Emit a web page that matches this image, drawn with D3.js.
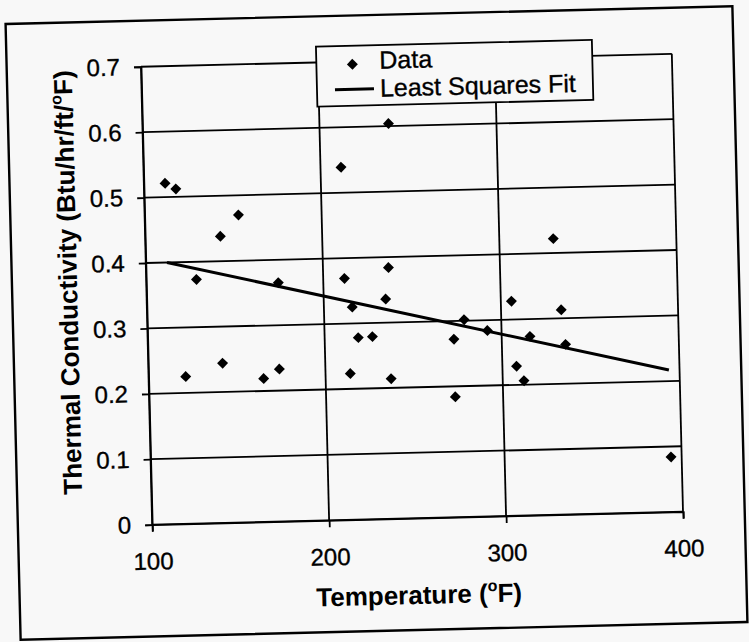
<!DOCTYPE html>
<html>
<head>
<meta charset="utf-8">
<script src="https://cdn.jsdelivr.net/npm/d3@7"></script>
<style>
  html, body { margin: 0; padding: 0; background: #f8f8f8; }
  svg { display: block; }
  text { font-family: "Liberation Sans", Arial, sans-serif; fill: #000; }
</style>
</head>
<body>
<svg id="chart" width="749" height="642"></svg>
<script>
// Measured thermal conductivity against temperature
const temperatures = [112, 118, 153, 142.5, 128.4, 174.6, 211.6, 239, 212, 237, 235,
  121, 142, 165, 174, 216, 219, 227, 214, 237, 279, 273, 292, 273, 306, 334, 316, 336,
  308, 312, 394, 330.5];
const conductivities = [0.521, 0.512, 0.470, 0.438, 0.373, 0.365, 0.539, 0.604, 0.369, 0.384, 0.336,
  0.225, 0.244, 0.219, 0.233, 0.325, 0.278, 0.279, 0.2235, 0.214, 0.3015, 0.272, 0.284, 0.184,
  0.328, 0.313, 0.2735, 0.260, 0.2285, 0.206, 0.084, 0.422];

// Least squares fit line, end points
const fitTemperatures = [112, 394];
const fitConductivities = [0.400, 0.217];

// Axis ticks
const xTicks = [100, 200, 300, 400];
const xTickLabels = ["100", "200", "300", "400"];
const yTicks = [0, 0.1, 0.2, 0.3, 0.4, 0.5, 0.6, 0.7];
const yTickLabels = ["0", "0.1", "0.2", "0.3", "0.4", "0.5", "0.6", "0.7"];

const legendLabels = ["Data", "Least Squares Fit"];

const svg = d3.select("#chart");
// the printed page sits slightly askew
const root = svg.append("g").attr("transform", "rotate(-1.4, 376, 323)");

// outer frame
root.append("rect")
  .attr("x", 13).attr("y", 15).attr("width", 727).attr("height", 616)
  .attr("fill", "none").attr("stroke", "#000").attr("stroke-width", 2.4);

const plot = { left: 147.3, right: 678.3, top: 61.1, bottom: 519.1 };

const x = d3.scaleLinear().domain([100, 400]).range([plot.left, plot.right]);
const y = d3.scaleLinear().domain([0, 0.7]).range([plot.bottom, plot.top]);

// gridlines
const grid = root.append("g").attr("stroke", "#000").attr("stroke-width", 1.8);
grid.selectAll("line.h").data(yTicks).join("line")
  .attr("x1", plot.left).attr("x2", plot.right)
  .attr("y1", d => y(d)).attr("y2", d => y(d));
grid.selectAll("line.v").data(xTicks).join("line")
  .attr("y1", plot.top).attr("y2", plot.bottom)
  .attr("x1", d => x(d)).attr("x2", d => x(d));

// axes
const xAxis = d3.axisBottom(x).tickValues(xTicks).tickSize(7).tickPadding(21)
  .tickFormat((d, i) => xTickLabels[i]);
const yAxis = d3.axisLeft(y).tickValues(yTicks).tickSize(7).tickPadding(14)
  .tickFormat((d, i) => yTickLabels[i]);

const gx = root.append("g").attr("transform", `translate(0,${plot.bottom})`).call(xAxis);
const gy = root.append("g").attr("transform", `translate(${plot.left},0)`).call(yAxis);
[gx, gy].forEach(g => {
  g.select(".domain").attr("stroke", "#000").attr("stroke-width", 1.8);
  g.selectAll(".tick line").attr("stroke", "#000").attr("stroke-width", 1.8);
  g.selectAll(".tick text").attr("font-size", 24)
    .attr("font-family", "'Liberation Sans', Arial, sans-serif").attr("fill", "#000")
    .attr("stroke", "#000").attr("stroke-width", 0.35);
});

// least squares fit
const fitData = fitTemperatures.map((t, i) => [t, fitConductivities[i]]);
root.append("path")
  .datum(fitData)
  .attr("fill", "none").attr("stroke", "#000").attr("stroke-width", 3)
  .attr("d", d3.line().x(d => x(d[0])).y(d => y(d[1])));

// data points as diamonds
const diamond = d3.symbol().type(d3.symbolSquare).size(60);
root.append("g").selectAll("path")
  .data(temperatures.map((t, i) => [t, conductivities[i]]))
  .join("path")
  .attr("d", diamond)
  .attr("transform", d => `translate(${x(d[0])},${y(d[1])}) rotate(45)`)
  .attr("fill", "#000");

// axis titles
const xTitle = root.append("text")
  .attr("x", 412.5).attr("y", 605)
  .attr("text-anchor", "middle").attr("font-size", 26).attr("font-weight", "bold");
xTitle.append("tspan").text("Temperature (");
xTitle.append("tspan").attr("font-size", 16).attr("dy", -11).text("o");
xTitle.append("tspan").attr("dy", 11).text("F)");

const yTitle = root.append("text")
  .attr("transform", "translate(78,275) rotate(-90)")
  .attr("text-anchor", "middle").attr("font-size", 26).attr("font-weight", "bold");
yTitle.append("tspan").text("Thermal Conductivity (Btu/hr/ft/");
yTitle.append("tspan").attr("font-size", 16).attr("dy", -11).text("o");
yTitle.append("tspan").attr("dy", 11).text("F)");

// legend
const legend = root.append("g").attr("transform", "translate(322.7,45.3)");
legend.append("rect").attr("width", 276).attr("height", 60)
  .attr("fill", "#f8f8f8").attr("stroke", "#000").attr("stroke-width", 1.8);
legend.append("path").attr("d", diamond)
  .attr("transform", "translate(36,18.5) rotate(45)").attr("fill", "#000");
legend.append("line").attr("x1", 18).attr("x2", 57).attr("y1", 43.4).attr("y2", 43.4)
  .attr("stroke", "#000").attr("stroke-width", 3);
legend.selectAll("text.lbl").data(legendLabels).join("text")
  .attr("x", 63).attr("y", (d, i) => i === 0 ? 23.5 : 51.5)
  .attr("font-size", 25).attr("stroke", "#000").attr("stroke-width", 0.35)
  .text(d => d);
</script>
</body>
</html>
